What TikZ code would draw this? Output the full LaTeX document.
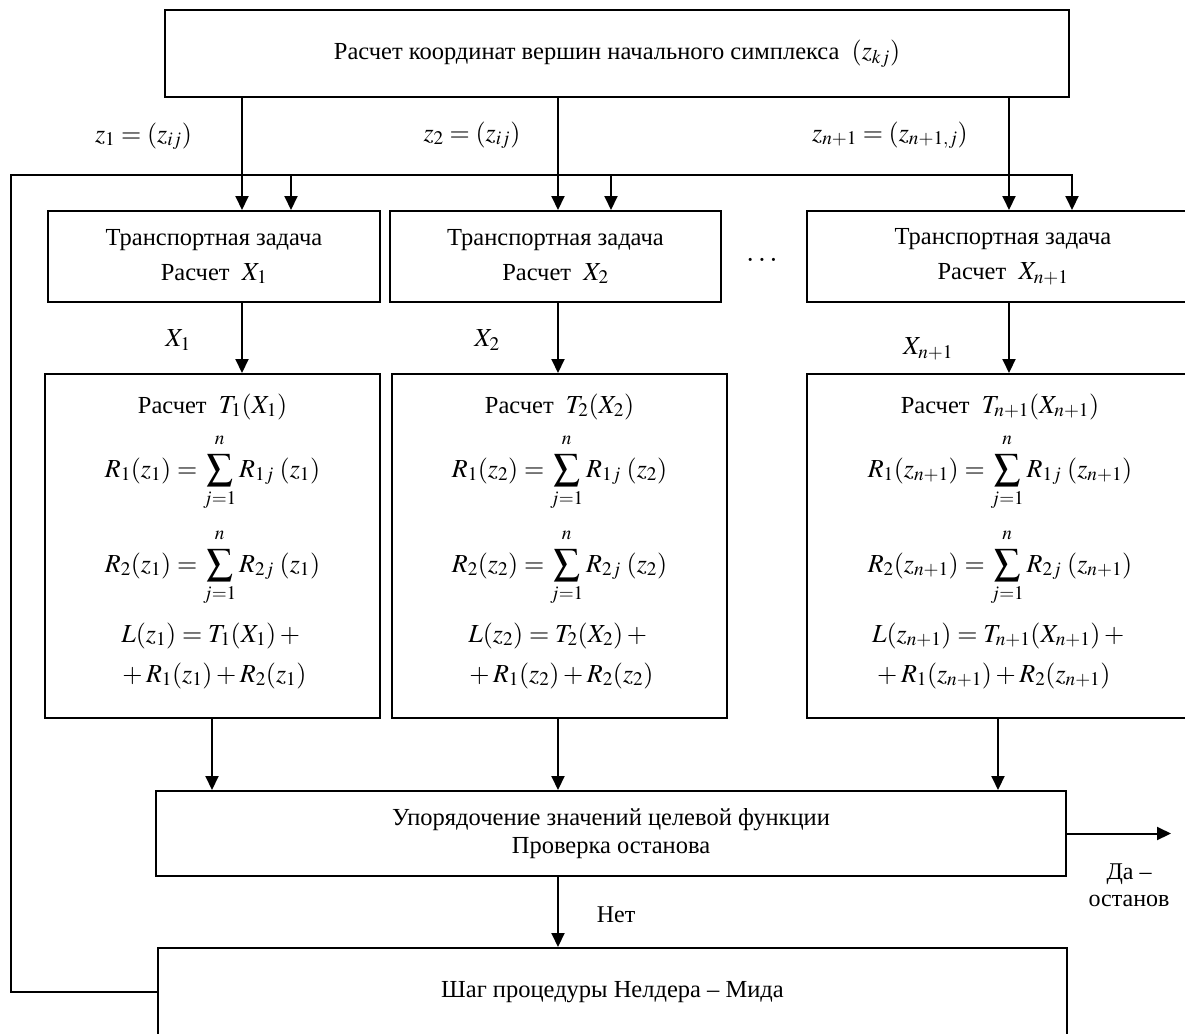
\documentclass[tikz,border=0pt]{standalone}
\usepackage{mathptmx}
\usepackage{fontspec}
\setmainfont{Liberation Serif}
\usetikzlibrary{arrows.meta}
\newcommand{\mth}[1]{{\fontsize{26}{30}\selectfont$#1$}}
\newcommand{\dmth}[1]{{\fontsize{26}{30}\selectfont$\displaystyle #1$}}
\newcommand{\sumj}{\sum_{\raisebox{-2pt}{$\scriptstyle j=1$}}^{\raisebox{5pt}{$\scriptstyle n$}}}
\begin{document}
\begin{tikzpicture}[x=1pt,y=-1pt,
  box/.style={draw, line width=2pt, inner sep=0pt, align=center,
    font=\fontsize{24.5}{35}\selectfont},
  arr/.style={line width=2pt, -{Triangle[length=14pt,width=13pt]}},
  txt/.style={font=\fontsize{24.5}{35}\selectfont, align=center, inner sep=0pt},
  fml/.style={font=\fontsize{24.5}{35}\selectfont, inner sep=0pt, anchor=base},
  lbl/.style={font=\fontsize{26}{30}\selectfont, inner sep=0pt}]
\useasboundingbox (0,0) rectangle (1185,1033);
\clip (0,0) rectangle (1185,1033);

% boxes
\node[box, minimum width=904pt, minimum height=87pt] (top) at (617,53.5)
  {Расчет координат вершин начального симплекса\ \ \mth{(z_{kj})}};
\node[box, minimum width=332pt, minimum height=91pt] (t1) at (214,256.5)
  {Транспортная задача\\Расчет\ \ \mth{X_1}};
\node[box, minimum width=331pt, minimum height=91pt] (t2) at (555.5,256.5)
  {Транспортная задача\\Расчет\ \ \mth{X_2}};
\node[box, minimum width=392pt, minimum height=91pt] (t3) at (1003,256.5)
  {Транспортная задача\\Расчет\ \ \mth{X_{n+1}}};
\node[inner sep=0pt, anchor=base, font=\fontsize{30}{30}\selectfont] (dots) at (762,261) {$\ldots$};

\node[box, minimum width=335pt, minimum height=344pt] (c1) at (212.5,546) {};
\node[box, minimum width=335pt, minimum height=344pt] (c2) at (559.5,546) {};
\node[box, minimum width=386pt, minimum height=344pt] (c3) at (1000,546) {};

\node[box, minimum width=910pt, minimum height=85pt,
  font=\fontsize{24.5}{28}\selectfont] (ord) at (611,833.5)
  {Упорядочение значений целевой функции\\Проверка останова};
\node[box, minimum width=909pt, minimum height=88pt] (bot) at (612.5,992)
  {Шаг процедуры Нелдера – Мида};

% contents of computation boxes
\node[fml] (c1a) at (212.5,413) {Расчет\ \ \mth{T_1(X_1)}};
\node[fml] (c1b) at (212.5,477) {\dmth{R_1(z_1)=\sumj R_{1j}\;(z_1)}};
\node[fml] (c1c) at (212.5,572) {\dmth{R_2(z_1)=\sumj R_{2j}\;(z_1)}};
\node[fml] (c1d) at (212.5,642) {\mth{L(z_1)=T_1(X_1)+{}}};
\node[fml] (c1e) at (212.5,682) {\mth{{}+R_1(z_1)+R_2(z_1)}};

\node[fml] (c2a) at (559.5,413) {Расчет\ \ \mth{T_2(X_2)}};
\node[fml] (c2b) at (559.5,477) {\dmth{R_1(z_2)=\sumj R_{1j}\;(z_2)}};
\node[fml] (c2c) at (559.5,572) {\dmth{R_2(z_2)=\sumj R_{2j}\;(z_2)}};
\node[fml] (c2d) at (559.5,642) {\mth{L(z_2)=T_2(X_2)+{}}};
\node[fml] (c2e) at (559.5,682) {\mth{{}+R_1(z_2)+R_2(z_2)}};

\node[fml] (c3a) at (1000,413) {Расчет\ \ \mth{T_{n+1}(X_{n+1})}};
\node[fml] (c3b) at (1000,477) {\dmth{R_1(z_{n+1})=\sumj R_{1j}\;(z_{n+1})}};
\node[fml] (c3c) at (1000,572) {\dmth{R_2(z_{n+1})=\sumj R_{2j}\;(z_{n+1})}};
\node[fml] (c3d) at (1000,642) {\mth{L(z_{n+1})=T_{n+1}(X_{n+1})+{}}};
\node[fml] (c3e) at (992,682) {\mth{{}+R_1(z_{n+1})+R_2(z_{n+1})}};

% labels
\node[lbl, anchor=base] (lz1) at (143.5,142) {$z_1=(z_{ij})$};
\node[lbl, anchor=base] (lz2) at (472,141) {$z_2=(z_{ij})$};
\node[lbl, anchor=base] (lz3) at (890,141) {$z_{n+1}=(z_{n+1,j})$};
\node[lbl] (lx1) at (178,340) {$X_1$};
\node[lbl] (lx2) at (487,340) {$X_2$};
\node[lbl] (lx3) at (928,349) {$X_{n+1}$};
\node[txt, font=\fontsize{24}{27}\selectfont] (lno) at (616,915) {Нет};
\node[txt, font=\fontsize{24}{27}\selectfont] (lyes) at (1129,885) {Да –\\останов};

% connector x positions
\coordinate (xa1) at (242,0);
\coordinate (xa2) at (558,0);
\coordinate (xa3) at (1009,0);
\coordinate (xb1) at (212,0);
\coordinate (xb3) at (998,0);
\coordinate (fl) at (11,175);
\coordinate (f1) at (291,175);
\coordinate (f2) at (611,175);
\coordinate (fr) at (1072,175);
\coordinate (out) at (1171,833.5);

% connectors
\draw[arr] (top.south -| xa1) -- (t1.north -| xa1);
\draw[arr] (top.south -| xa2) -- (t2.north -| xa2);
\draw[arr] (top.south -| xa3) -- (t3.north -| xa3);
\draw[arr] (t1.south -| xa1) -- (c1.north -| xa1);
\draw[arr] (t2.south -| xa2) -- (c2.north -| xa2);
\draw[arr] (t3.south -| xa3) -- (c3.north -| xa3);
\draw[arr] (c1.south -| xb1) -- (ord.north -| xb1);
\draw[arr] (c2.south -| xa2) -- (ord.north -| xa2);
\draw[arr] (c3.south -| xb3) -- (ord.north -| xb3);
\draw[arr] (ord.south -| xa2) -- (bot.north -| xa2);
\draw[arr] (ord.east) -- (out);
\draw[arr] (bot.west) -| (fl) -- (fr) -- (t3.north -| fr);
\draw[arr] (f1) -- (t1.north -| f1);
\draw[arr] (f2) -- (t2.north -| f2);
\end{tikzpicture}
\end{document}
